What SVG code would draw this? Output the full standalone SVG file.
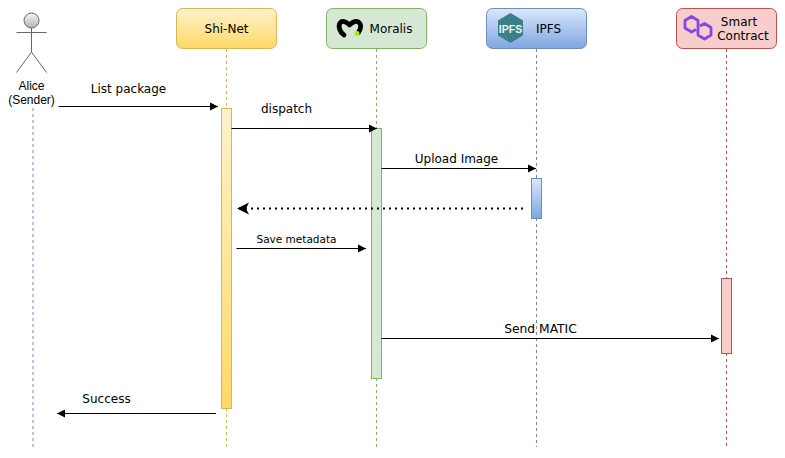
<svg xmlns="http://www.w3.org/2000/svg" width="785" height="458" viewBox="0 0 785 458">
<style>
text{font-family:"DejaVu Sans",Verdana,sans-serif;font-size:12px;fill:#000;text-anchor:middle}
.h{font-family:"Liberation Sans",Arial,sans-serif}
.life{fill:none;stroke-width:1;stroke-dasharray:3 3}
.msg{fill:none;stroke:#000;stroke-width:1;marker-end:url(#arr)}
</style>
<defs>
<marker id="arr" markerUnits="userSpaceOnUse" markerWidth="9" markerHeight="10" refX="8" refY="5" orient="auto"><path d="M0 1L8 5L0 9z" fill="#000"/></marker>
<marker id="arrBig" markerUnits="userSpaceOnUse" markerWidth="13" markerHeight="13" refX="12" refY="6.500" orient="auto"><path d="M0 .5L12 6.500L0 12.500L3 6.500z" fill="#000"/></marker>
<linearGradient id="gy" x1="0" y1="0" x2="0" y2="1"><stop offset="0" stop-color="#fff2cc"/><stop offset="1" stop-color="#ffd966"/></linearGradient>
<linearGradient id="gb" x1="0" y1="0" x2="0" y2="1"><stop offset="0" stop-color="#dae8fc"/><stop offset="1" stop-color="#7ea6e0"/></linearGradient>
<linearGradient id="gg" x1="0" y1="0" x2="0" y2="1"><stop offset="0" stop-color="#f5f5f5"/><stop offset="1" stop-color="#b3b3b3"/></linearGradient>
</defs>
<g id="lifelines">
<path class="life" stroke="#6c8ebf" d="M33 108V447"/>
<path class="life" stroke="#d6b656" d="M226.500 49V108M226.500 408V447"/>
<path class="life" stroke="#82b366" d="M376.500 49V128M376.500 378V447"/>
<path class="life" stroke="#6c8ebf" d="M536.500 49V178M536.500 218V447"/>
<path class="life" stroke="#b85450" d="M726.500 49V278M726.500 353V447"/>
</g>
<g id="alice">
<ellipse cx="31.500" cy="20.500" rx="7.500" ry="7.500" fill="url(#gg)" stroke="#666"/>
<path d="M31.500 28V52M16.500 32.500H46.500M31.500 52L16.500 72.500M31.500 52L46.500 72.500" fill="none" stroke="#666"/>
<text class="h" x="31.500" y="90">Alice</text>
<text class="h" x="31.500" y="104">(Sender)</text>
</g>
<g id="shinet">
<rect x="176.500" y="8.500" width="100" height="40" rx="6" fill="url(#gy)" stroke="#d6b656"/>
<text x="226.500" y="33">Shi-Net</text>
</g>
<g id="moralis">
<rect x="326.500" y="8.500" width="100" height="40" rx="6" fill="#d5e8d4" stroke="#82b366"/>
<path d="M344 35C339.500 32 338 26 340 23C342 20.500 346 21 349.500 25C352.500 21.500 357 20 359.500 23C361.500 25.500 360 30 358.500 32.500" fill="none" stroke="#000" stroke-width="4.800" stroke-linecap="round" stroke-linejoin="round"/>
<circle cx="357" cy="33.500" r="2.500" fill="#b7e803"/>
<text x="391" y="33">Moralis</text>
</g>
<g id="ipfs">
<rect x="486.500" y="8.500" width="100" height="40" rx="6" fill="url(#gb)" stroke="#6c8ebf"/>
<path d="M510.500 13L523 20.500V35.500L510.500 43L498 35.500V20.500z" fill="#3b8087"/>
<text x="510.500" y="33" style="font-family:'Liberation Sans',Arial,sans-serif;font-size:10.500px;font-weight:bold;fill:#e8f4f4">IPFS</text>
<text x="548.500" y="33">IPFS</text>
</g>
<g id="contract">
<rect x="676.500" y="8.500" width="100" height="40" rx="6" fill="#f8cecc" stroke="#b85450"/>
<path d="M696 29.500L691.500 32L685 28V20.500L691.500 16.500L698 20.500V35L704.500 39L711 35V27.500L704.500 23.500L700 26" fill="none" stroke="#8247e5" stroke-width="2.800" stroke-linejoin="round"/>
<text x="739" y="26">Smart</text>
<text x="743" y="40">Contract</text>
</g>
<g id="activations">
<rect x="221.500" y="108.500" width="10" height="300" fill="url(#gy)" stroke="#d6b656"/>
<rect x="371.500" y="128.500" width="10" height="250" fill="#d5e8d4" stroke="#82b366"/>
<rect x="531.500" y="178.500" width="10" height="40" fill="url(#gb)" stroke="#6c8ebf"/>
<rect x="721.500" y="278.500" width="10" height="75" fill="#f8cecc" stroke="#b85450"/>
</g>
<g id="connectors">
<path class="msg" d="M58.500 106.500H218"/>
<path class="msg" d="M231.500 128.500H377"/>
<path class="msg" d="M381.500 168.500H536"/>
<path fill="none" stroke="#000" stroke-width="2" stroke-dasharray="2 4" marker-end="url(#arrBig)" d="M523 208.500H237"/>
<path class="msg" d="M236.500 248.500H366"/>
<path class="msg" d="M381.500 338.500H719"/>
<path class="msg" d="M216 413.500H57"/>
</g>
<g id="labels">
<text x="128.500" y="93">List package</text>
<text x="286.500" y="113">dispatch</text>
<text x="456.500" y="163">Upload Image</text>
<text x="296.500" y="243" style="font-size:10.500px">Save metadata</text>
<text x="540.500" y="333" style="font-size:12.300px">Send MATIC</text>
<text x="106.500" y="403">Success</text>
</g>
</svg>
